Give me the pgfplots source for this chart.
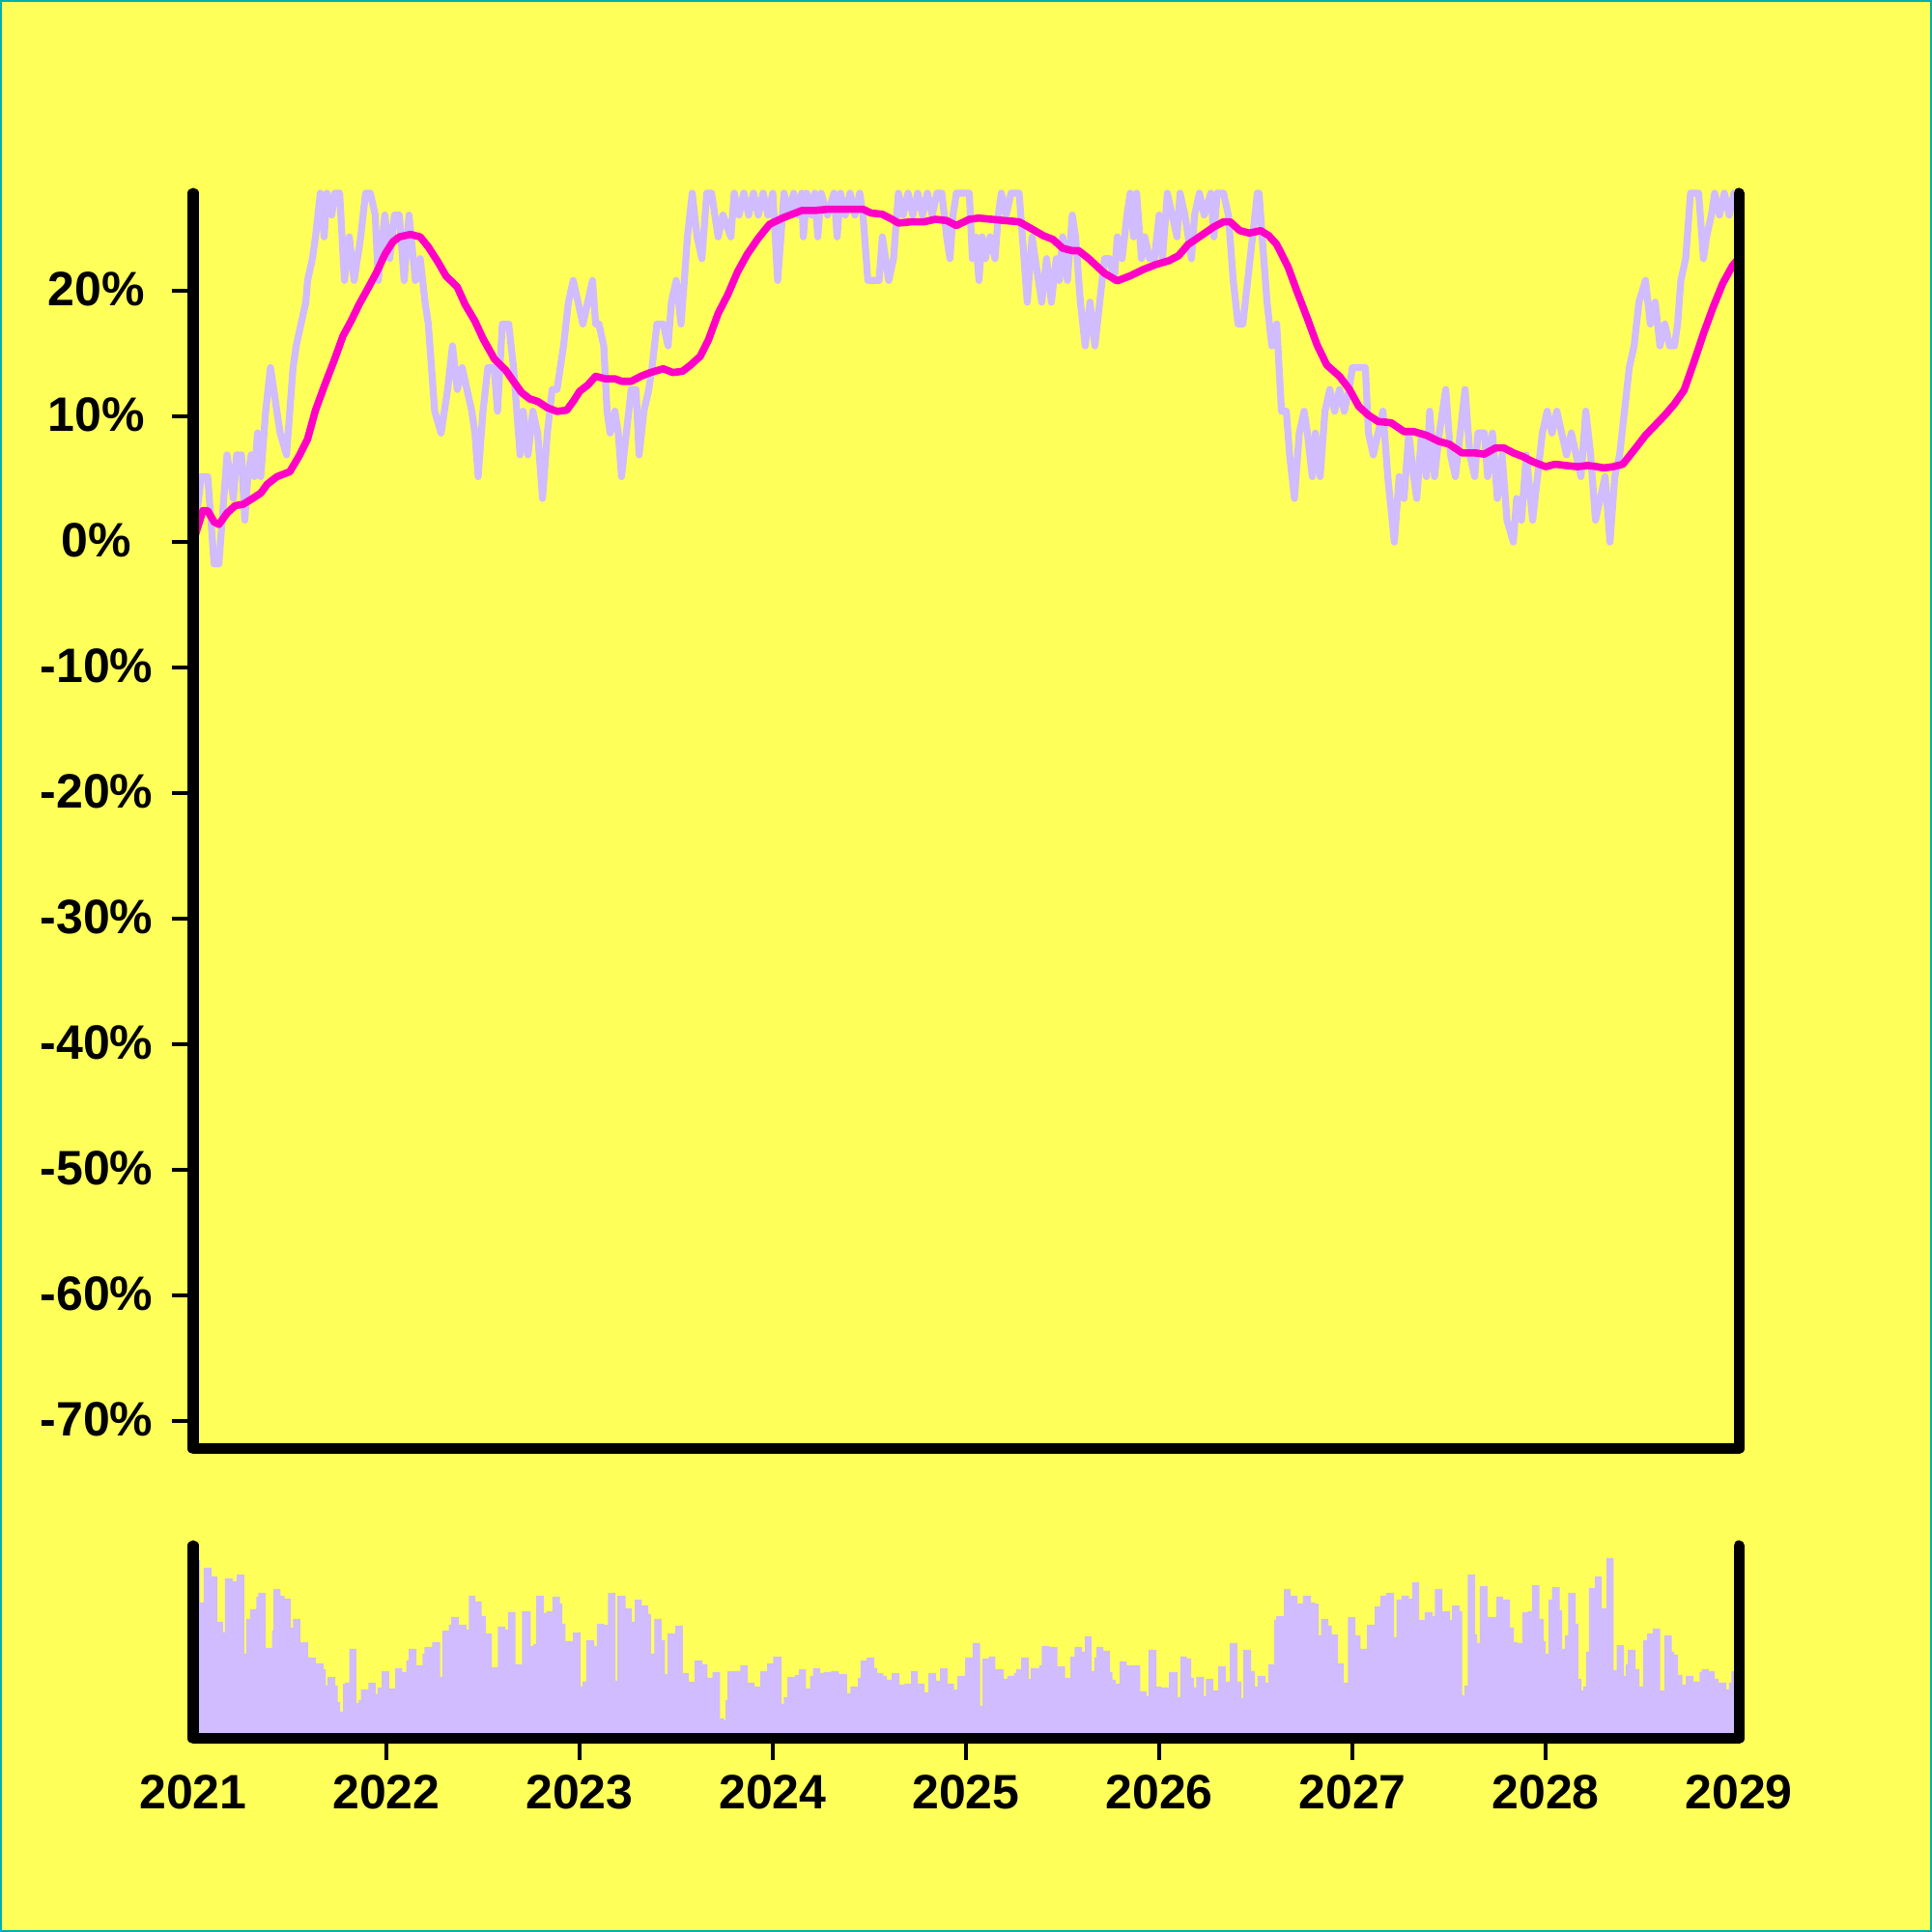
\documentclass[border=0pt]{standalone}
\usepackage{fontspec}
\setmainfont{Liberation Sans}
\usepackage{pgfplots}
\pgfplotsset{compat=1.18}
\definecolor{bg}{RGB}{255,255,90}
\definecolor{lav}{RGB}{208,188,255}
\definecolor{mag}{RGB}{255,0,200}
\definecolor{frame}{RGB}{0,175,175}
\begin{document}
\begin{tikzpicture}
\useasboundingbox (0,0) rectangle (500pt,500pt);
\fill[bg] (0,0) rectangle (500pt,500pt);
\draw[frame, line width=0.5pt] (0.25pt,0.25pt) rectangle (499.75pt,499.75pt);
\pgfplotsset{myax/.style={scale only axis, width=400pt, axis line style={draw=none},
  tick align=outside, major tick length=5.5pt, tick style={line width=0.85pt, black},
  ticklabel style={font=\fontsize{12.5}{14}\selectfont\bfseries, anchor=center},
  xmin=2021, xmax=2029, clip=false}}
\begin{axis}[myax, at={(50pt,125pt)}, anchor=south west, height=325pt,
  ymin=-72.22, ymax=27.78, xtick=\empty, ytick={-70,-60,-50,-40,-30,-20,-10,0,10,20},
  yticklabels={\textbf{-70\%},\textbf{-60\%},\textbf{-50\%},\textbf{-40\%},\textbf{-30\%},\textbf{-20\%},\textbf{-10\%},\textbf{0\%},\textbf{10\%},\textbf{20\%}},
  ytick pos=left, yticklabel style={xshift=-19.5pt, yshift=0.5pt}]
\addplot[lav, line width=1.8pt, line join=round] coordinates {
(2021.0,0) (2021.042,5.21) (2021.075,5.21) (2021.092,1.74) (2021.108,-1.74) (2021.133,-1.74) (2021.15,1.74) (2021.175,6.94) (2021.192,5.21) (2021.208,3.47) (2021.225,6.94) (2021.25,6.94) (2021.267,1.74) (2021.283,5.21) (2021.30,6.94) (2021.317,5.21) (2021.333,8.68) (2021.35,5.21) (2021.375,10.42) (2021.40,13.89) (2021.417,12.15) (2021.433,10.42) (2021.45,8.68) (2021.483,6.94) (2021.517,13.89) (2021.533,15.62) (2021.558,17.36) (2021.583,19.10) (2021.592,20.83) (2021.617,22.57) (2021.633,24.30) (2021.658,27.78) (2021.678,24.30) (2021.692,27.78) (2021.717,26.04) (2021.733,27.78) (2021.758,27.78) (2021.783,20.83) (2021.808,24.30) (2021.833,20.83) (2021.867,24.30) (2021.892,27.78) (2021.917,27.78) (2021.942,26.04) (2021.958,20.83) (2021.992,26.04) (2022.017,22.57) (2022.042,26.04) (2022.067,26.04) (2022.092,20.83) (2022.117,26.04) (2022.15,20.83) (2022.175,22.57) (2022.20,19.10) (2022.217,17.36) (2022.25,10.42) (2022.283,8.68) (2022.317,12.15) (2022.342,15.62) (2022.367,12.15) (2022.392,13.89) (2022.417,12.15) (2022.442,10.42) (2022.458,8.68) (2022.475,5.21) (2022.50,10.42) (2022.525,13.89) (2022.558,13.89) (2022.575,10.42) (2022.60,17.36) (2022.633,17.36) (2022.658,13.89) (2022.675,10.42) (2022.692,6.94) (2022.708,10.42) (2022.733,6.94) (2022.758,10.42) (2022.783,8.68) (2022.808,3.47) (2022.833,8.68) (2022.858,12.15) (2022.883,12.15) (2022.917,15.62) (2022.942,19.10) (2022.967,20.83) (2022.992,19.10)
(2023.017,17.36) (2023.042,19.10) (2023.067,20.83) (2023.083,17.36) (2023.10,17.36) (2023.125,15.62) (2023.142,10.42) (2023.158,8.68) (2023.183,10.42) (2023.20,8.68) (2023.217,5.21) (2023.242,8.68) (2023.267,12.15) (2023.292,12.15) (2023.308,6.94) (2023.333,10.42) (2023.358,12.15) (2023.375,13.89) (2023.40,17.36) (2023.433,17.36) (2023.458,15.62) (2023.475,19.10) (2023.50,20.83) (2023.525,17.36) (2023.542,20.83) (2023.558,24.30) (2023.583,27.78) (2023.608,24.30) (2023.633,22.57) (2023.658,27.78) (2023.683,27.78) (2023.70,26.04) (2023.717,24.30) (2023.742,26.04) (2023.783,24.30) (2023.80,27.78) (2023.825,26.04) (2023.85,27.78) (2023.875,26.04) (2023.90,27.78) (2023.925,26.04) (2023.95,27.78) (2023.975,26.04) (2024.0,27.78) (2024.025,20.83) (2024.042,24.30) (2024.058,27.78) (2024.083,26.04) (2024.108,27.78) (2024.133,26.04) (2024.15,27.78) (2024.158,24.30) (2024.175,27.78) (2024.20,26.04) (2024.217,27.78) (2024.233,24.30) (2024.25,27.78) (2024.283,26.04) (2024.317,27.78) (2024.333,24.30) (2024.35,27.78) (2024.375,26.04) (2024.40,27.78) (2024.425,26.04) (2024.45,27.78) (2024.467,26.04) (2024.492,20.83) (2024.55,20.83) (2024.567,24.30) (2024.60,20.83) (2024.625,22.57) (2024.65,27.78) (2024.675,26.04) (2024.70,27.78) (2024.725,26.04) (2024.75,27.78) (2024.775,26.04) (2024.80,27.78) (2024.825,26.04) (2024.85,27.78) (2024.875,27.78) (2024.90,24.30) (2024.917,22.57) (2024.933,26.04) (2024.95,27.78) (2025.017,27.78)
(2025.033,22.57) (2025.05,24.30) (2025.067,20.83) (2025.083,24.30) (2025.10,22.57) (2025.125,24.30) (2025.15,22.57) (2025.167,26.04) (2025.183,27.78) (2025.208,26.04) (2025.233,27.78) (2025.275,27.78) (2025.292,24.30) (2025.317,19.10) (2025.342,24.30) (2025.358,22.57) (2025.375,20.83) (2025.392,19.10) (2025.417,22.57) (2025.442,19.10) (2025.467,22.57) (2025.483,20.83) (2025.50,24.30) (2025.525,20.83) (2025.55,26.04) (2025.567,24.30) (2025.592,19.10) (2025.617,15.62) (2025.642,19.10) (2025.667,15.62) (2025.692,19.10) (2025.717,22.57) (2025.742,22.57) (2025.767,20.83) (2025.783,24.30) (2025.808,22.57) (2025.833,26.04) (2025.85,27.78) (2025.867,24.30) (2025.883,27.78) (2025.908,22.57) (2025.925,24.30) (2025.95,22.57) (2025.975,22.57) (2026.0,26.04) (2026.017,22.57) (2026.042,27.78) (2026.067,26.04) (2026.092,24.30) (2026.108,27.78) (2026.133,26.04) (2026.15,24.30) (2026.167,22.57) (2026.183,26.04) (2026.208,27.78) (2026.233,26.04) (2026.267,27.78) (2026.283,24.30) (2026.30,27.78) (2026.333,27.78) (2026.358,26.04) (2026.383,20.83) (2026.408,17.36) (2026.433,17.36) (2026.458,20.83) (2026.483,24.30) (2026.508,27.78)
(2026.517,27.78) (2026.533,24.30) (2026.558,19.10) (2026.583,15.62) (2026.608,17.36) (2026.633,10.42) (2026.658,10.42) (2026.675,6.94) (2026.70,3.47) (2026.725,8.68) (2026.75,10.42) (2026.767,8.68) (2026.792,5.21) (2026.808,8.68) (2026.833,5.21) (2026.858,10.42) (2026.883,12.15) (2026.908,10.42) (2026.933,12.15) (2026.958,10.42) (2026.983,12.15) (2027.0,13.89) (2027.033,13.89) (2027.067,13.89) (2027.083,8.68) (2027.108,6.94) (2027.133,8.68) (2027.158,10.42) (2027.183,5.21) (2027.217,0) (2027.242,5.21) (2027.267,3.47) (2027.292,8.68) (2027.317,5.21) (2027.333,3.47) (2027.358,8.68) (2027.383,5.21) (2027.40,10.42) (2027.425,5.21) (2027.45,8.68) (2027.483,12.15) (2027.508,6.94) (2027.533,5.21) (2027.558,8.68) (2027.583,12.15) (2027.608,6.94) (2027.633,5.21) (2027.65,8.68) (2027.683,8.68) (2027.70,5.21) (2027.725,8.68) (2027.75,3.47) (2027.775,6.94) (2027.80,1.74) (2027.833,0) (2027.85,3.47) (2027.875,1.74) (2027.90,6.94) (2027.933,1.74) (2027.958,5.21) (2027.983,8.68) (2028.008,10.42) (2028.033,8.68) (2028.058,10.42) (2028.083,8.68) (2028.108,6.94) (2028.133,8.68) (2028.158,6.94) (2028.183,5.21) (2028.208,10.42) (2028.233,6.94) (2028.258,1.74) (2028.283,3.47) (2028.308,5.21) (2028.333,0) (2028.358,5.21) (2028.383,6.94) (2028.408,10.42) (2028.433,13.89) (2028.458,15.62) (2028.483,19.10) (2028.517,20.83) (2028.542,17.36) (2028.567,19.10) (2028.592,15.62) (2028.617,17.36) (2028.642,15.62) (2028.667,15.62) (2028.683,17.36) (2028.70,20.83) (2028.725,22.57) (2028.75,27.78) (2028.792,27.78) (2028.817,22.57) (2028.833,24.30) (2028.858,26.04) (2028.875,27.78) (2028.90,26.04) (2028.925,27.78) (2028.95,26.04) (2028.975,27.78) (2029.0,27.78)
};
\addplot[mag, line width=1.9pt, line join=round] coordinates {
(2021.0,0) (2021.05,2.5) (2021.075,2.5) (2021.108,1.6) (2021.133,1.4) (2021.175,2.3) (2021.217,2.9) (2021.258,3.0) (2021.30,3.4) (2021.35,3.9) (2021.383,4.6) (2021.433,5.2) (2021.50,5.6) (2021.55,6.9) (2021.592,8.2) (2021.633,10.5) (2021.683,12.6) (2021.733,14.6) (2021.775,16.4) (2021.817,17.6) (2021.858,18.9) (2021.908,20.3) (2021.95,21.5) (2021.992,22.9) (2022.033,23.9) (2022.067,24.3) (2022.125,24.5) (2022.175,24.3) (2022.217,23.5) (2022.267,22.3) (2022.308,21.2) (2022.367,20.3) (2022.408,18.9) (2022.458,17.6) (2022.50,16.2) (2022.558,14.6) (2022.617,13.7) (2022.658,12.8) (2022.70,11.9) (2022.742,11.4) (2022.783,11.2) (2022.833,10.7) (2022.883,10.4) (2022.933,10.5) (2022.967,11.2) (2023.0,12.0) (2023.042,12.5) (2023.083,13.2) (2023.133,13.0) (2023.183,13.0) (2023.217,12.8) (2023.267,12.8) (2023.317,13.2) (2023.367,13.5) (2023.433,13.8) (2023.483,13.5) (2023.533,13.6) (2023.575,14.1) (2023.625,14.8) (2023.667,16.1) (2023.717,18.2) (2023.767,19.7) (2023.817,21.5) (2023.867,22.9) (2023.925,24.2) (2023.983,25.3) (2024.05,25.8) (2024.10,26.1) (2024.15,26.4) (2024.217,26.4) (2024.283,26.5) (2024.333,26.5) (2024.383,26.5) (2024.467,26.5) (2024.508,26.2) (2024.567,26.1) (2024.617,25.7) (2024.65,25.4) (2024.717,25.5) (2024.783,25.5) (2024.842,25.7) (2024.90,25.6) (2024.95,25.2) (2025.017,25.7) (2025.067,25.8) (2025.133,25.7) (2025.20,25.6) (2025.275,25.5) (2025.333,25.0) (2025.40,24.4) (2025.45,24.1) (2025.50,23.4) (2025.55,23.2) (2025.583,23.2) (2025.633,22.6) (2025.675,22.0) (2025.717,21.4) (2025.783,20.8) (2025.85,21.2) (2025.917,21.7) (2025.983,22.1) (2026.05,22.4) (2026.10,22.8) (2026.15,23.7) (2026.217,24.4) (2026.283,25.1) (2026.333,25.5) (2026.367,25.5) (2026.417,24.8) (2026.467,24.6) (2026.525,24.8) (2026.567,24.4) (2026.608,23.7) (2026.667,21.9) (2026.717,19.8) (2026.767,17.8) (2026.817,15.7) (2026.867,14.1) (2026.933,13.2) (2026.983,12.2) (2027.033,10.8) (2027.083,10.1) (2027.133,9.6) (2027.20,9.5) (2027.267,8.8) (2027.317,8.8) (2027.383,8.5) (2027.45,8.0) (2027.50,7.8) (2027.567,7.1) (2027.633,7.1) (2027.683,7.0) (2027.742,7.5) (2027.783,7.5) (2027.833,7.1) (2027.883,6.8) (2027.933,6.4) (2028.0,6.0) (2028.05,6.2) (2028.10,6.1) (2028.167,6.0) (2028.217,6.1) (2028.267,6.0) (2028.30,5.9) (2028.35,6.0) (2028.40,6.2) (2028.467,7.5) (2028.517,8.5) (2028.567,9.3) (2028.617,10.1) (2028.667,11.0) (2028.717,12.1) (2028.767,14.3) (2028.817,16.6) (2028.867,18.7) (2028.917,20.6) (2028.967,22.0) (2029.0,22.6)
};
\draw[line width=2.75pt, line cap=round, line join=round] (rel axis cs:0,1) -- (rel axis cs:0,0) -- (rel axis cs:1,0) -- (rel axis cs:1,1);
\end{axis}
\begin{axis}[myax, at={(50pt,50pt)}, anchor=south west, height=50pt,
  ymin=0, ymax=200, ytick=\empty, xtick={2022,2023,2024,2025,2026,2027,2028},
  xticklabels={\textbf{2022},\textbf{2023},\textbf{2024},\textbf{2025},\textbf{2026},\textbf{2027},\textbf{2028}},
  extra x ticks={2021,2029}, extra x tick labels={\textbf{2021},\textbf{2029}},
  extra x tick style={tick style={draw=none}},
  xtick pos=left, xticklabel style={yshift=-8.25pt}]
\addplot[const plot, fill=lav, draw=none] coordinates {
(2021.000,185) (2021.036,141) (2021.055,177) (2021.094,168) (2021.125,121) (2021.154,110) (2021.164,166) (2021.204,163) (2021.225,170) (2021.264,88) (2021.274,124) (2021.295,134) (2021.327,147) (2021.337,151) (2021.374,94) (2021.408,112) (2021.415,155) (2021.452,148) (2021.473,145) (2021.504,115) (2021.517,124) (2021.554,100) (2021.596,84) (2021.635,78) (2021.674,72) (2021.687,55) (2021.695,64) (2021.735,55) (2021.748,38) (2021.761,28) (2021.776,57) (2021.787,58) (2021.808,93) (2021.844,37) (2021.857,40) (2021.868,51) (2021.907,58) (2021.946,46) (2021.954,53) (2021.975,70) (2022.014,52) (2022.046,73) (2022.082,69) (2022.103,81) (2022.116,93) (2022.156,76) (2022.187,88) (2022.197,95) (2022.237,100) (2022.278,64) (2022.289,112) (2022.323,118) (2022.336,126) (2022.375,118) (2022.414,113) (2022.427,148) (2022.461,142) (2022.493,127) (2022.514,109) (2022.545,74) (2022.577,116) (2022.616,113) (2022.629,131) (2022.668,77) (2022.702,132) (2022.747,96) (2022.760,98) (2022.775,148) (2022.815,130) (2022.828,132) (2022.859,147) (2022.898,140) (2022.911,119) (2022.927,101) (2022.966,110) (2023.006,54) (2023.016,59) (2023.034,102) (2023.076,96) (2023.089,119) (2023.126,118) (2023.147,151) (2023.186,60) (2023.196,148) (2023.238,135) (2023.270,121) (2023.285,144) (2023.322,138) (2023.356,129) (2023.369,88) (2023.387,124) (2023.424,102) (2023.442,67) (2023.455,109) (2023.494,117) (2023.534,68) (2023.565,59) (2023.596,81) (2023.636,77) (2023.662,63) (2023.688,69) (2023.727,21) (2023.748,19) (2023.756,40) (2023.766,70) (2023.832,76) (2023.871,58) (2023.905,54) (2023.936,70) (2023.970,78) (2024.002,85) (2024.044,36) (2024.057,43) (2024.075,64) (2024.114,66) (2024.135,72) (2024.172,52) (2024.193,65) (2024.208,73) (2024.245,68) (2024.263,69) (2024.302,70) (2024.342,67) (2024.384,47) (2024.402,54) (2024.441,63) (2024.454,81) (2024.486,84) (2024.525,73) (2024.541,68) (2024.572,65) (2024.590,61) (2024.616,68) (2024.656,56) (2024.682,57) (2024.716,70) (2024.750,57) (2024.786,48) (2024.805,68) (2024.846,60) (2024.865,73) (2024.904,57) (2024.938,51) (2024.956,65) (2024.995,84)
(2025.034,99) (2025.073,34) (2025.086,83) (2025.118,85) (2025.152,72) (2025.196,62) (2025.214,65) (2025.248,68) (2025.259,72) (2025.285,84) (2025.324,62) (2025.335,73) (2025.379,76) (2025.392,96) (2025.431,95) (2025.473,75) (2025.513,63) (2025.541,85) (2025.562,95) (2025.601,90) (2025.615,106) (2025.651,70) (2025.664,84) (2025.675,95) (2025.711,91) (2025.745,69) (2025.758,61) (2025.774,57) (2025.795,80) (2025.832,76) (2025.902,49) (2025.934,44) (2025.944,92) (2025.986,54) (2026.012,53) (2026.051,69) (2026.096,43) (2026.109,85) (2026.143,83) (2026.166,63) (2026.179,53) (2026.192,64) (2026.232,44) (2026.242,62) (2026.281,50) (2026.305,75) (2026.344,59) (2026.365,99) (2026.404,59) (2026.425,42) (2026.436,92) (2026.475,70) (2026.496,54) (2026.509,65) (2026.551,58) (2026.566,77) (2026.595,123) (2026.606,127) (2026.645,155) (2026.681,148) (2026.715,140) (2026.744,148) (2026.786,141) (2026.804,140) (2026.825,107) (2026.838,124) (2026.875,117) (2026.893,108) (2026.925,78) (2026.956,58) (2026.977,126) (2027.016,107) (2027.042,93) (2027.076,118) (2027.116,137) (2027.144,148) (2027.176,151) (2027.215,105) (2027.228,144) (2027.254,148) (2027.293,145) (2027.309,162) (2027.346,123) (2027.374,131) (2027.414,127) (2027.427,155) (2027.466,132) (2027.505,123) (2027.516,138) (2027.555,132) (2027.568,45) (2027.581,55) (2027.597,170) (2027.636,108) (2027.646,99) (2027.659,158) (2027.699,126) (2027.746,147) (2027.780,144) (2027.816,115) (2027.835,100) (2027.856,99) (2027.879,131) (2027.908,132) (2027.929,159) (2027.968,124) (2027.989,101) (2027.999,88) (2028.015,144) (2028.033,157) (2028.073,133) (2028.086,93) (2028.101,107) (2028.117,151) (2028.156,119) (2028.169,62) (2028.185,50) (2028.196,54) (2028.209,90) (2028.224,156) (2028.256,168) (2028.290,135) (2028.316,187) (2028.352,71) (2028.368,97) (2028.405,65) (2028.415,77) (2028.426,92) (2028.465,72) (2028.486,54) (2028.504,102) (2028.525,109) (2028.556,114) (2028.593,50) (2028.614,107) (2028.653,90) (2028.666,87) (2028.685,66) (2028.708,56) (2028.726,65) (2028.766,59) (2028.797,69) (2028.808,72) (2028.844,70) (2028.876,62) (2028.896,58) (2028.936,51) (2028.949,58) (2028.962,70) (2029.000,70)
} \closedcycle;
\draw[line width=2.75pt, line cap=round, line join=round] (rel axis cs:0,1) -- (rel axis cs:0,0) -- (rel axis cs:1,0) -- (rel axis cs:1,1);
\end{axis}
\end{tikzpicture}
\end{document}
